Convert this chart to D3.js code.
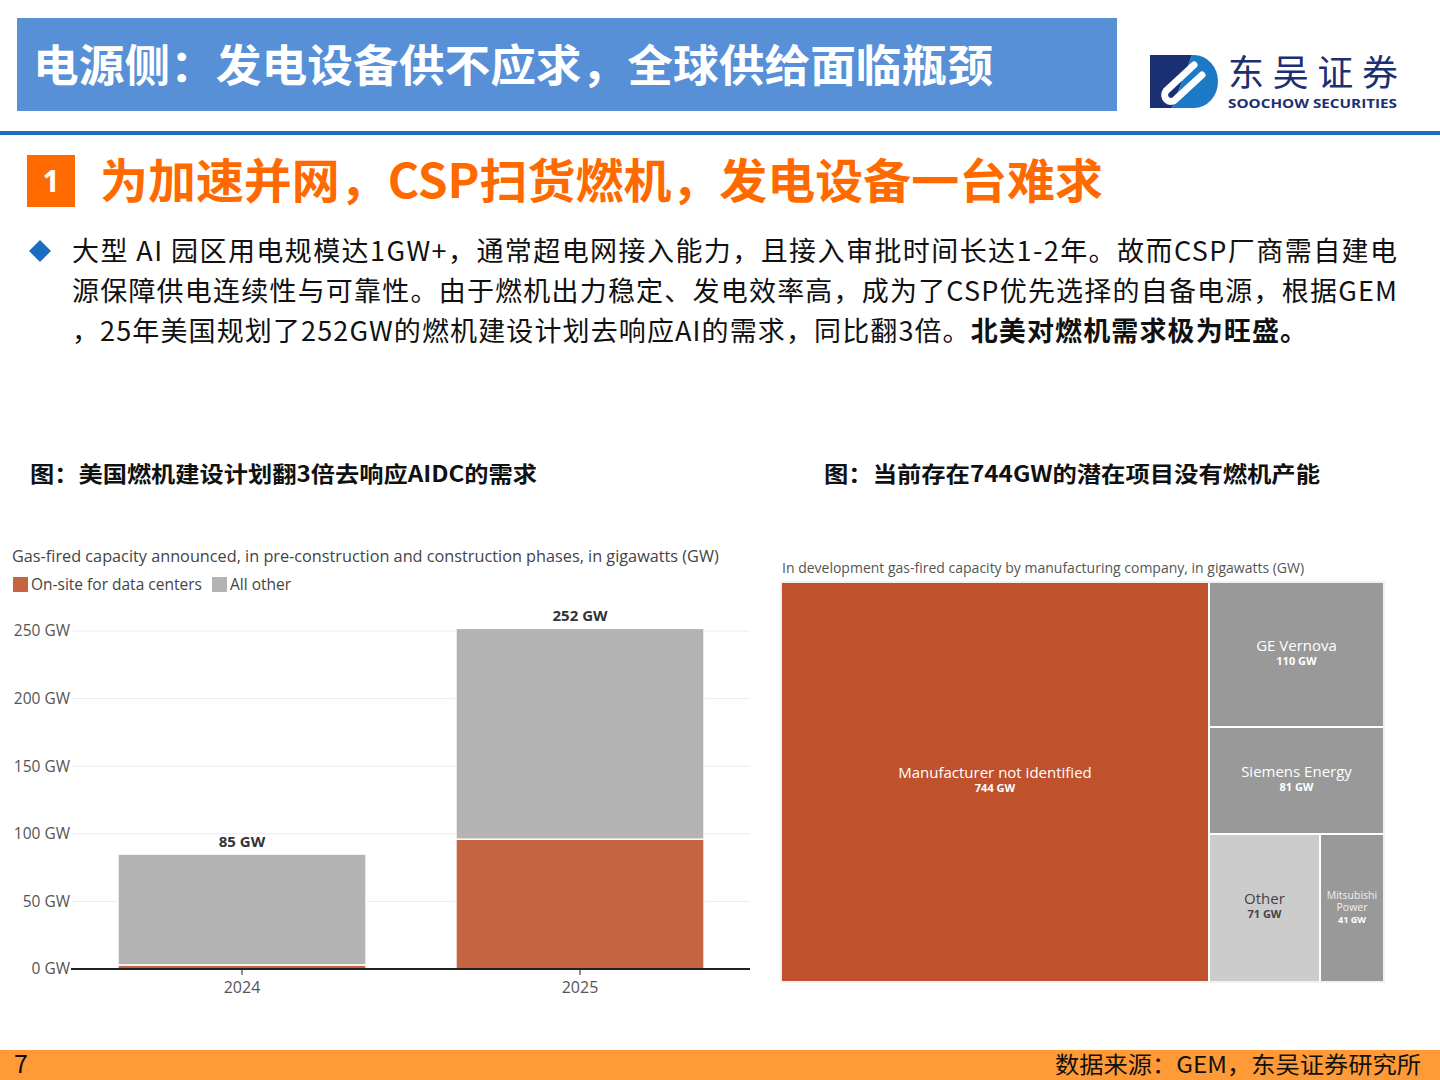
<!DOCTYPE html>
<html>
<head>
<meta charset="utf-8">
<script src="https://cdn.jsdelivr.net/npm/d3@7"></script>
<style>
  html, body { margin: 0; padding: 0; background: #fff; }
  svg { display: block; }
</style>
</head>
<body>
<script>
// bar chart data (GW)
const years = ["2024", "2025"];
const dataCenters = [3, 96];
const allOther = [82, 156];
const totals = [85, 252];
const yTicks = [0, 50, 100, 150, 200, 250];

// treemap data (GW)
const makers = ["Manufacturer not identified", "GE Vernova", "Siemens Energy", "Other", "Mitsubishi Power"];
const makerGW = [744, 110, 81, 71, 41];

const W = 1440, H = 1080;
const cjk = "'Noto Sans CJK SC', 'Noto Sans', sans-serif";
const sans = "'Open Sans', 'Noto Sans', sans-serif";

const svg = d3.select("body").append("svg")
    .attr("width", W)
    .attr("height", H);

// ---- page header ----
svg.append("rect")
    .attr("x", 17).attr("y", 18)
    .attr("width", 1100).attr("height", 93)
    .attr("fill", "#5790d7");

svg.append("text")
    .attr("x", 33).attr("y", 82)
    .attr("font-family", cjk)
    .attr("font-weight", 700)
    .attr("font-size", 44)
    .attr("fill", "#fff")
    .attr("textLength", 960)
    .attr("lengthAdjust", "spacingAndGlyphs")
    .text("电源侧：发电设备供不应求，全球供给面临瓶颈");

// logo
const logo = svg.append("g").attr("transform", "translate(1150,55)");
logo.append("path")
    .attr("d", "M0,0 H42 L22,53 H0 Z")
    .attr("fill", "#1b2f73");
logo.append("path")
    .attr("d", "M42,0 H44 A24,26.5 0 0 1 44,53 H22 Z")
    .attr("fill", "#1c79c6");
logo.append("path")
    .attr("d", "M44,10 L16,36 A6,6 0 0 0 26,44 L52,20")
    .attr("fill", "none")
    .attr("stroke", "#fff")
    .attr("stroke-width", 7)
    .attr("stroke-linecap", "round");
svg.append("text")
    .attr("x", 1228).attr("y", 86)
    .attr("font-family", cjk)
    .attr("font-size", 36)
    .attr("fill", "#1b2f73")
    .attr("textLength", 170)
    .text("东吴证券");
svg.append("text")
    .attr("x", 1228).attr("y", 108)
    .attr("font-family", sans)
    .attr("font-weight", 700)
    .attr("font-size", 13)
    .attr("fill", "#1b2f73")
    .attr("textLength", 169)
    .attr("lengthAdjust", "spacingAndGlyphs")
    .text("SOOCHOW SECURITIES");

svg.append("rect")
    .attr("x", 0).attr("y", 131)
    .attr("width", W).attr("height", 4)
    .attr("fill", "#1a6dc0");

// ---- section heading ----
svg.append("rect")
    .attr("x", 27).attr("y", 155)
    .attr("width", 48).attr("height", 52)
    .attr("fill", "#ff6a00");
svg.append("text")
    .attr("x", 51).attr("y", 192)
    .attr("text-anchor", "middle")
    .attr("font-family", sans)
    .attr("font-weight", 700)
    .attr("font-size", 30)
    .attr("fill", "#fff")
    .text("1");
svg.append("text")
    .attr("x", 100).attr("y", 198)
    .attr("font-family", cjk)
    .attr("font-weight", 700)
    .attr("font-size", 47)
    .attr("fill", "#ff6a00")
    .attr("textLength", 1003)
    .attr("lengthAdjust", "spacingAndGlyphs")
    .text("为加速并网，CSP扫货燃机，发电设备一台难求");

// ---- bullet paragraph ----
svg.append("path")
    .attr("d", "M40,240 L51,251 L40,262 L29,251 Z")
    .attr("fill", "#1a6dc0");

const para = svg.append("g")
    .attr("font-family", cjk)
    .attr("font-size", 27)
    .attr("fill", "#111");
para.append("text")
    .attr("x", 72).attr("y", 261)
    .attr("textLength", 1325)
    .attr("lengthAdjust", "spacing")
    .text("大型 AI 园区用电规模达1GW+，通常超电网接入能力，且接入审批时间长达1-2年。故而CSP厂商需自建电");
para.append("text")
    .attr("x", 72).attr("y", 301)
    .attr("textLength", 1325)
    .attr("lengthAdjust", "spacing")
    .text("源保障供电连续性与可靠性。由于燃机出力稳定、发电效率高，成为了CSP优先选择的自备电源，根据GEM");
const line3 = para.append("text")
    .attr("x", 72).attr("y", 341)
    .attr("textLength", 1235)
    .attr("lengthAdjust", "spacing");
line3.append("tspan").text("，25年美国规划了252GW的燃机建设计划去响应AI的需求，同比翻3倍。");
line3.append("tspan").attr("font-weight", 700).text("北美对燃机需求极为旺盛。");

// ---- figure captions ----
const cap = svg.append("g")
    .attr("font-family", cjk)
    .attr("font-weight", 700)
    .attr("font-size", 22)
    .attr("fill", "#111");
cap.append("text").attr("x", 30).attr("y", 482)
    .attr("textLength", 507)
    .attr("lengthAdjust", "spacingAndGlyphs")
    .text("图：美国燃机建设计划翻3倍去响应AIDC的需求");
cap.append("text").attr("x", 824).attr("y", 482)
    .attr("textLength", 496)
    .attr("lengthAdjust", "spacingAndGlyphs")
    .text("图：当前存在744GW的潜在项目没有燃机产能");

// ---- stacked bar chart ----
const orange = "#c46442", grey = "#b3b3b3";
const bar = svg.append("g").attr("font-family", sans);

bar.append("text")
    .attr("x", 12).attr("y", 562)
    .attr("font-size", 16.25)
    .attr("fill", "#444")
    .text("Gas-fired capacity announced, in pre-construction and construction phases, in gigawatts (GW)");

const legend = [["On-site for data centers", orange, 13], ["All other", grey, 212]];
legend.forEach(([label, c, lx]) => {
    bar.append("rect").attr("x", lx).attr("y", 577).attr("width", 15).attr("height", 15).attr("fill", c);
    bar.append("text").attr("x", lx + 18).attr("y", 590)
        .attr("font-size", 15.5).attr("fill", "#444").text(label);
});

const x = d3.scaleBand()
    .domain(years)
    .range([73, 749])
    .paddingInner(0.266)
    .paddingOuter(0.133);
const y = d3.scaleLinear()
    .domain([0, 250])
    .range([969, 631]);

// gridlines + y labels
bar.append("g")
    .selectAll("line")
    .data(yTicks.filter(d => d > 0))
    .join("line")
    .attr("x1", 72).attr("x2", 750)
    .attr("y1", d => y(d)).attr("y2", d => y(d))
    .attr("stroke", "#ececec");

bar.append("g")
    .attr("transform", "translate(72,0)")
    .call(d3.axisLeft(y).tickValues(yTicks).tickSize(0).tickPadding(2).tickFormat(d => d + " GW"))
    .call(g => g.select(".domain").remove())
    .call(g => g.selectAll("text")
        .attr("font-family", sans)
        .attr("font-size", 15.5)
        .attr("fill", "#555"));

const stackRows = years.map((yr, i) => ({ year: yr, dc: dataCenters[i], other: allOther[i] }));
const series = d3.stack().keys(["dc", "other"])(stackRows);
const colour = d3.scaleOrdinal(["dc", "other"], [orange, grey]);

bar.append("g")
    .selectAll("g")
    .data(series)
    .join("g")
    .attr("fill", d => colour(d.key))
    .selectAll("rect")
    .data(d => d)
    .join("rect")
    .attr("x", d => x(d.data.year))
    .attr("width", x.bandwidth())
    .attr("y", d => y(d[1]))
    .attr("height", d => y(d[0]) - y(d[1]))
    .attr("stroke", "#fff")
    .attr("stroke-width", 1.5);

bar.append("g")
    .selectAll("text")
    .data(years)
    .join("text")
    .attr("x", d => x(d) + x.bandwidth() / 2)
    .attr("y", (d, i) => y(totals[i]) - 7)
    .attr("text-anchor", "middle")
    .attr("font-size", 15)
    .attr("font-weight", 700)
    .attr("fill", "#333")
    .text((d, i) => totals[i] + " GW");

bar.append("g")
    .attr("transform", `translate(0,${y(0)})`)
    .call(d3.axisBottom(x).tickSize(6).tickPadding(7))
    .call(g => g.select(".domain")
        .attr("d", "M71,0H750")
        .attr("stroke", "#222")
        .attr("stroke-width", 2))
    .call(g => g.selectAll(".tick line").attr("stroke", "#222"))
    .call(g => g.selectAll("text")
        .attr("font-family", sans)
        .attr("font-size", 16)
        .attr("fill", "#555"));

// ---- treemap ----
const tm = svg.append("g").attr("font-family", sans);
tm.append("text")
    .attr("x", 782).attr("y", 573)
    .attr("font-size", 14)
    .attr("fill", "#555")
    .text("In development gas-fired capacity by manufacturing company, in gigawatts (GW)");

// each child takes a full strip off the shorter side of what is left
function stripTile(parent, x0, y0, x1, y1) {
    let left = parent.value;
    parent.children.forEach(node => {
        const f = left ? node.value / left : 0;
        if (x1 - x0 >= y1 - y0) {
            const xm = x0 + (x1 - x0) * f;
            node.x0 = x0; node.x1 = xm; node.y0 = y0; node.y1 = y1;
            x0 = xm;
        } else {
            const ym = y0 + (y1 - y0) * f;
            node.x0 = x0; node.x1 = x1; node.y0 = y0; node.y1 = ym;
            y0 = ym;
        }
        left -= node.value;
    });
}

const root = d3.hierarchy({ children: makers.map((m, i) => ({ name: m, value: makerGW[i] })) })
    .sum(d => d.value || 0);
d3.treemap()
    .tile(stripTile)
    .size([601, 398])
    .paddingInner(2)
    .round(true)(root);

const fillOf = d3.scaleOrdinal(makers, ["#c0512d", "#999999", "#999999", "#cccccc", "#999999"]);
const inkOf = d3.scaleOrdinal(makers, ["#fff", "#fff", "#fff", "#444", "#fff"]);

tm.append("rect")
    .attr("x", 781).attr("y", 582)
    .attr("width", 603).attr("height", 400)
    .attr("fill", "none")
    .attr("stroke", "#e4e4e4");

const cell = tm.append("g")
    .attr("transform", "translate(782,583)")
    .selectAll("g")
    .data(root.leaves())
    .join("g")
    .attr("transform", d => `translate(${d.x0},${d.y0})`);

cell.append("rect")
    .attr("width", d => d.x1 - d.x0)
    .attr("height", d => d.y1 - d.y0)
    .attr("fill", d => fillOf(d.data.name));

cell.each(function(d) {
    const g = d3.select(this);
    const w = d.x1 - d.x0, h = d.y1 - d.y0;
    const narrow = w < 80;
    const words = narrow ? d.data.name.split(" ") : [d.data.name];
    const fs = narrow ? 10.5 : 15;
    const lh = narrow ? 12 : 14;
    const n = words.length + 1;
    const first = h / 2 - (n - 1) * lh / 2 + 3;
    const t = g.append("text")
        .attr("text-anchor", "middle")
        .attr("fill", inkOf(d.data.name));
    words.forEach((wd, k) => {
        t.append("tspan")
            .attr("x", w / 2)
            .attr("y", first + k * lh)
            .attr("font-size", fs)
            .attr("opacity", narrow ? 0.85 : 1)
            .text(wd);
    });
    t.append("tspan")
        .attr("x", w / 2)
        .attr("y", first + words.length * lh)
        .attr("font-size", narrow ? 9 : 11)
        .attr("font-weight", 700)
        .text(d.data.value + " GW");
});

// ---- footer ----
svg.append("rect")
    .attr("x", 0).attr("y", 1050)
    .attr("width", W).attr("height", 30)
    .attr("fill", "#ff9a36");
svg.append("text")
    .attr("x", 14).attr("y", 1073)
    .attr("font-family", cjk)
    .attr("font-size", 25)
    .attr("fill", "#111")
    .text("7");
svg.append("text")
    .attr("x", 1421).attr("y", 1073)
    .attr("text-anchor", "end")
    .attr("font-family", cjk)
    .attr("font-size", 23)
    .attr("fill", "#111")
    .attr("textLength", 366)
    .attr("lengthAdjust", "spacingAndGlyphs")
    .text("数据来源：GEM，东吴证券研究所");
</script>
</body>
</html>
